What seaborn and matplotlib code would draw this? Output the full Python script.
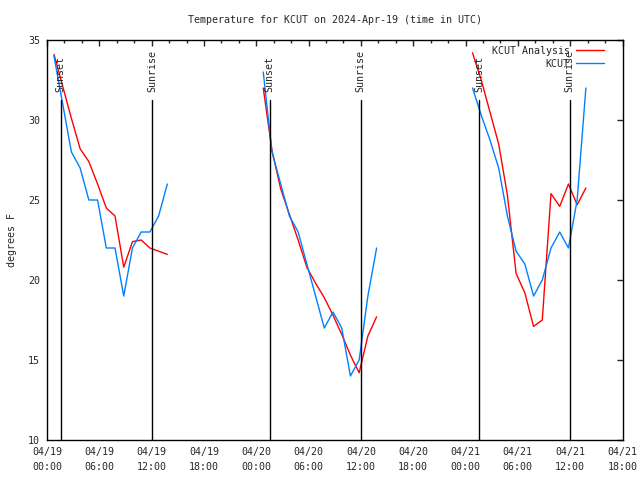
import pandas as pd
import matplotlib
matplotlib.use("Agg")
import matplotlib.pyplot as plt
import matplotlib.dates as mdates
import seaborn as sns

# Readings: one value per hour, 14 hours per night, starting ~00:48 UTC
days = ["2024-04-19", "2024-04-20", "2024-04-21"]
start_offset_min = 48

analysis_d1 = [34.1, 32.1, 30.1, 28.2, 27.4, 26.0, 24.5, 24.0, 20.8, 22.4, 22.5, 22.0, 21.8, 21.6]
analysis_d2 = [32.0, 28.1, 25.7, 24.1, 22.5, 20.8, 19.8, 18.9, 17.8, 16.6, 15.3, 14.2, 16.5, 17.7]
analysis_d3 = [34.2, 32.5, 30.5, 28.5, 25.3, 20.4, 19.2, 17.1, 17.5, 25.4, 24.6, 26.0, 24.7, 25.75]

obs_d1 = [34, 31, 28, 27, 25, 25, 22, 22, 19, 22, 23, 23, 24, 26]
obs_d2 = [33, 28, 26, 24, 23, 21, 19, 17, 18, 17, 14, 15, 19, 22]
obs_d3 = [32, 30.3, 28.75, 27, 24, 21.8, 21, 19, 20, 22, 23, 22, 25, 32]

# sunset / sunrise times (UTC)
sunsets = ["2024-04-19 01:33", "2024-04-20 01:32", "2024-04-21 01:34"]
sunrises = ["2024-04-19 12:04", "2024-04-20 11:59", "2024-04-21 11:57"]

# Build a long table for seaborn
rows = []
for day, a_vals, o_vals in zip(days, [analysis_d1, analysis_d2, analysis_d3], [obs_d1, obs_d2, obs_d3]):
    t0 = pd.Timestamp(day) + pd.Timedelta(minutes=start_offset_min)
    for k in range(len(a_vals)):
        t = t0 + pd.Timedelta(hours=k)
        rows.append({"time": t, "temp": a_vals[k], "series": "KCUT Analysis", "day": day})
    for k in range(len(o_vals)):
        t = t0 + pd.Timedelta(hours=k)
        rows.append({"time": t, "temp": o_vals[k], "series": "KCUT", "day": day})
data = pd.DataFrame(rows)

sns.set_style("white")
plt.rcParams['font.family'] = ['DejaVu Sans Mono', 'DejaVu Sans']
plt.rcParams['font.size'] = 7.2

fig = plt.figure(figsize=(6.4, 4.8), dpi=100)
ax = fig.add_axes([47 / 640, 40 / 480, 575.5 / 640, 400 / 480])

sns.lineplot(data=data, x="time", y="temp", hue="series", units="day", estimator=None,
             palette={"KCUT Analysis": "#ff0000", "KCUT": "#0080ff"}, linewidth=1, ax=ax)

# sunset / sunrise markers
for s in sunsets:
    t = pd.Timestamp(s)
    ax.axvline(t, ymin=0, ymax=0.85, color="black", linewidth=1)
    ax.text(t, 31.75, "Sunset", rotation=90, ha="center", va="bottom", fontsize=7.2)
for s in sunrises:
    t = pd.Timestamp(s)
    ax.axvline(t, ymin=0, ymax=0.85, color="black", linewidth=1)
    ax.text(t, 31.75, "Sunrise", rotation=90, ha="center", va="bottom", fontsize=7.2)

ax.set_xlim(pd.Timestamp("2024-04-19 00:00"), pd.Timestamp("2024-04-21 18:00"))
ax.set_ylim(10, 35)
ax.set_yticks([10, 15, 20, 25, 30, 35])
ax.xaxis.set_major_locator(mdates.HourLocator(byhour=[0, 6, 12, 18]))
ax.xaxis.set_minor_locator(mdates.HourLocator(interval=2))
ax.xaxis.set_major_formatter(mdates.DateFormatter("%m/%d\n%H:%M"))
for lbl in ax.get_xticklabels():
    lbl.set_linespacing(1.6)

ax.tick_params(axis="both", which="major", direction="in", length=4, width=1,
               top=True, right=True, pad=5, labelsize=7.2)
ax.tick_params(axis="x", which="minor", direction="in", length=2, width=1, top=True)
for sp in ax.spines.values():
    sp.set_color("black")
    sp.set_linewidth(1)

ax.set_xlabel("")
ax.set_ylabel("degrees F", labelpad=8)
ax.set_title("Temperature for KCUT on 2024-Apr-19 (time in UTC)", fontsize=7.2, pad=12)

ax.legend(loc="upper right", bbox_to_anchor=(0.978, 1.0), frameon=False, markerfirst=False,
          handlelength=2.8, borderaxespad=0.2, labelspacing=0.3, fontsize=7.2, handletextpad=0.6)

plt.savefig("out.png", dpi=100)
